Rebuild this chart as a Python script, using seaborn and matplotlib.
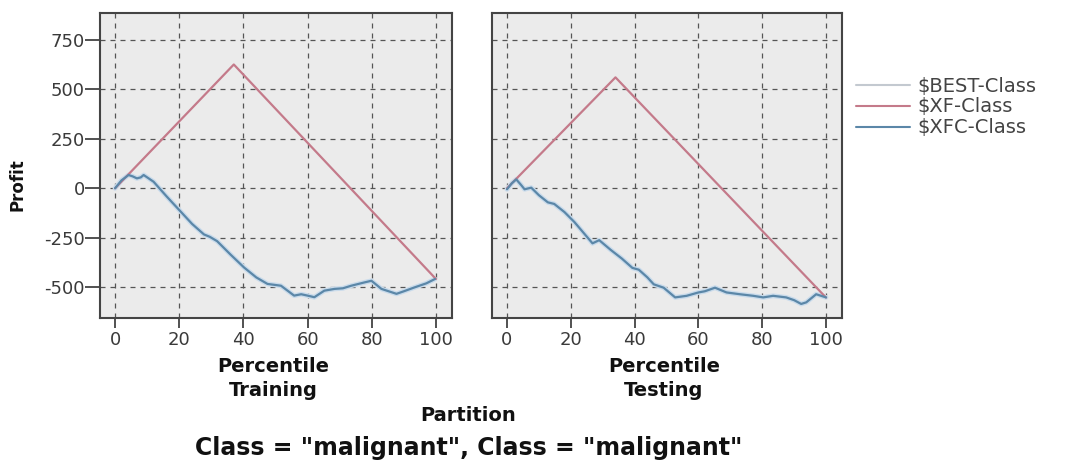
import numpy as np
import pandas as pd
import matplotlib
matplotlib.use("Agg")
import matplotlib.pyplot as plt
from matplotlib.lines import Line2D
import seaborn as sns

# ---- data ----
series_names = ["$BEST-Class", "$XF-Class", "$XFC-Class"]
partitions = ["Training", "Testing"]

train_xf_pct = [0, 37, 100]
train_xf = [0, 625, -458]
test_xf_pct = [0, 34, 100]
test_xf = [0, 560, -552]

train_xfc_pct = [0, 2, 4.2, 5.5, 6.8, 8.0, 8.9, 10, 12, 16, 20.4, 24, 27.7, 29.5, 31.8, 36, 40.2, 44,
                 47.5, 51.7, 54, 55.8, 58, 60, 62.1, 65.2, 68.4, 71, 73.6, 77.8, 79.9, 83, 87.7, 90,
                 93.4, 97, 99.7]
train_xfc = [0, 40, 67, 60, 50, 55, 67, 55, 33, -40, -117, -180, -233, -245, -267, -335, -400, -450,
             -483, -492, -520, -542, -535, -542, -550, -517, -508, -505, -492, -475, -467, -508, -533,
             -520, -500, -480, -458]
test_xfc_pct = [0, 1.5, 2.9, 4.5, 5.5, 7.6, 10, 12.8, 14.8, 18, 21.1, 24, 26.8, 28.9, 32.5, 36, 39.3,
                41.3, 44, 46, 49.1, 52.7, 56.3, 60, 62, 65.2, 68.8, 73, 77.2, 80.3, 83.4, 87.5,
                90, 92.2, 93.8, 96.9, 100]
test_xfc = [-5, 25, 45, 15, -5, 3, -35, -71, -79, -120, -170, -225, -278, -262, -311, -355, -402,
            -411, -450, -485, -502, -551, -543, -526, -520, -502, -526, -535, -543, -551, -543, -551,
            -565, -584, -576, -535, -551]

x_ticks = [0, 20, 40, 60, 80, 100]
y_ticks = [-500, -250, 0, 250, 500, 750]

colors = {"$BEST-Class": "#c9dbeb", "$XF-Class": "#c47a8a", "$XFC-Class": "#5b87a8"}
legend_colors = {"$BEST-Class": "#c3c9d0", "$XF-Class": "#c47a8a", "$XFC-Class": "#5b87a8"}

# long-form table
rows = []
for part, (xfp, xf, xcp, xc) in zip(partitions, [(train_xf_pct, train_xf, train_xfc_pct, train_xfc),
                                                 (test_xf_pct, test_xf, test_xfc_pct, test_xfc)]):
    for p, v in zip(xcp, xc):
        rows.append((part, "$BEST-Class", p, v))
    for p, v in zip(xfp, xf):
        rows.append((part, "$XF-Class", p, v))
    for p, v in zip(xcp, xc):
        rows.append((part, "$XFC-Class", p, v))
df = pd.DataFrame(rows, columns=["Partition", "Series", "Percentile", "Profit"])

sns.set_style("white")
plt.rcParams["font.family"] = ["DejaVu Sans"]
plt.rcParams["axes.unicode_minus"] = False

fig = plt.figure(figsize=(10.72, 4.65), dpi=100)
W, H = 1072, 465
axes = [fig.add_axes([100 / W, (H - 318) / H, 352 / W, 305 / H]),
        fig.add_axes([492 / W, (H - 318) / H, 350 / W, 305 / H])]

widths = {"$BEST-Class": 3.5, "$XF-Class": 1.6, "$XFC-Class": 1.6}
for ax, part in zip(axes, partitions):
    sub = df[df["Partition"] == part]
    for s in series_names:
        sns.lineplot(data=sub[sub["Series"] == s], x="Percentile", y="Profit", color=colors[s],
                     lw=widths[s], sort=False, estimator=None, ax=ax, legend=False)
    ax.set_facecolor("#ebebeb")
    ax.set_xlim(-4.7, 105)
    ax.set_ylim(-655, 885)
    ax.set_xticks(x_ticks)
    ax.set_yticks(y_ticks)
    ax.grid(True, color="#555555", linestyle=(0, (4, 4)), linewidth=0.9)
    ax.set_axisbelow(True)
    for sp in ax.spines.values():
        sp.set_color("#444444")
        sp.set_linewidth(1.5)
    ax.tick_params(axis="x", direction="out", length=7, width=1.2, color="#333333",
                   labelsize=13, labelcolor="#3a3a3a", pad=2, bottom=True)
    ax.set_xlabel("")
    ax.set_ylabel("")

axes[0].tick_params(axis="y", direction="out", length=11, width=1.2, color="#333333",
                    labelsize=13, labelcolor="#3a3a3a", pad=0, left=True)
axes[1].tick_params(axis="y", left=False, labelleft=False)

fig.text(18 / W, 1 - 185 / H, "Profit", fontsize=12, fontweight="bold", color="#111111",
         rotation=90, ha="center", va="center")

bold = dict(fontsize=14, fontweight="bold", color="#111111", ha="center", va="center")
for ax, part in zip(axes, partitions):
    box = ax.get_position()
    cx = (box.x0 + box.x1) / 2 - 3 / W
    fig.text(cx, 1 - 366 / H, "Percentile", **bold)
    fig.text(cx, 1 - 391 / H, part, **bold)
fig.text(468 / W, 1 - 415 / H, "Partition", **bold)
fig.text(469 / W, 1 - 448 / H, 'Class = "malignant", Class = "malignant"',
         fontsize=17, fontweight="bold", color="#111111", ha="center", va="center")

handles = [Line2D([0], [0], color=legend_colors[s], lw=1.5) for s in series_names]
fig.legend(handles, series_names, loc="upper left", bbox_to_anchor=(838 / W, 1 - 59 / H),
           frameon=False, fontsize=14, handlelength=2.8, handletextpad=0.4,
           labelspacing=0.1, labelcolor="#444444")

fig.savefig("out.png", dpi=100)
